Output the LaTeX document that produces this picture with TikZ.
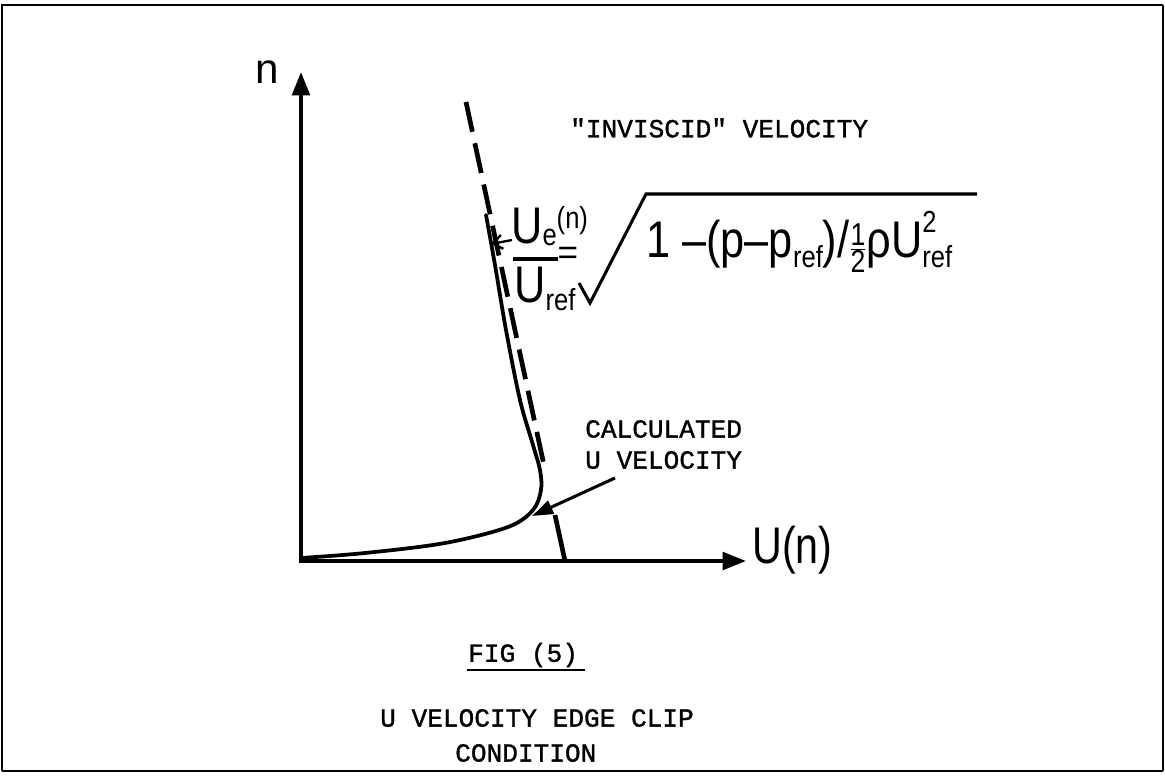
\documentclass[tikz,border=0pt]{standalone}
\usepackage{fontspec}
\usepackage{graphicx}
\usetikzlibrary{arrows.meta}
\newfontfamily\fsans{Liberation Sans}
\newfontfamily\fmono{Liberation Mono}[Ligatures=TeXOff,FakeBold=1.2]
\newcommand{\bigf}{\fsans\fontsize{44}{50}\selectfont}
\newcommand{\midf}{\fsans\fontsize{26}{28}\selectfont}
\newcommand{\halff}{\fsans\fontsize{27}{28}\selectfont}
\begin{document}
\begin{tikzpicture}[x=0.03cm,y=-0.03cm,
  axisline/.style={line width=3.4pt,-{Triangle[length=20pt,width=15pt]}},
  curveline/.style={line width=3.2pt,line cap=round,line join=round},
  dashline/.style={line width=4pt,dash pattern=on 26pt off 10pt},
  tt/.style={font=\fmono\fontsize{22.3}{26}\selectfont,inner sep=0pt},
  lbl/.style={inner sep=0pt},
  pointer/.style={line width=2.6pt,-{Triangle[length=18pt,width=12pt]}}]
\useasboundingbox (0,0) rectangle (1165,780);
% frame
\draw[line width=2.4pt] (2,771) -- (2,5) -- (1163,5);
\draw[line width=1.2pt] (1163,5) -- (1163,771);
\draw[line width=1.5pt] (2,771) -- (1163,771);
% axes
\coordinate (O) at (301,561);
\coordinate (Oh) at (299,561);
\coordinate (ytip) at (301,72);
\coordinate (xtip) at (746,561);
\draw[axisline] (O) -- (ytip);
\draw[axisline] (Oh) -- (xtip);
\node[lbl,font=\fsans\fontsize{36}{40}\selectfont] (nlab) at (267,72) {n};
\node[lbl,anchor=base west,font=\bigf] (ulab) at (752,563) {\scalebox{0.8}[1]{U(n)}};
% dashed inviscid line
\coordinate (dtop) at (466,102);
\coordinate (dmid) at (545,470);
\coordinate (dlow) at (555,515);
\coordinate (dbot) at (565,561);
\draw[dashline] (dtop) -- (dmid);
\draw[line width=4pt] (dlow) -- (dbot);
% calculated curve
\draw[curveline] plot[smooth,tension=0.55] coordinates {(486,215) (495,265) (506,330) (520,400) (533,445) (540,470) (541,490) (533,510) (508,527) (445,543) (365,553) (301,558)};
% formula
\node[lbl,anchor=base west,font=\bigf] (num) at (511,243) {\scalebox{0.84}[1]{U\raisebox{-2pt}{\midf e}\raisebox{12pt}{\midf (n)}}};
\coordinate (fb1) at (513,259);
\coordinate (fb2) at (558,259);
\draw[line width=2.6pt] (fb1) -- (fb2);
\node[lbl,anchor=base west,font=\bigf] (den) at (514,302) {\scalebox{0.84}[1]{U\raisebox{-7pt}{\midf ref}}};
\node[lbl,anchor=base,font=\fsans\fontsize{30}{32}\selectfont] (eq) at (568,264) {=};
\coordinate (r1) at (579,283);
\coordinate (r2) at (590,303);
\coordinate (r3) at (646,194);
\coordinate (r4) at (977,194);
\draw[line width=2.6pt,line join=miter] (r1) -- (r2) -- (r3) -- (r4);
\node[lbl,anchor=base west,font=\bigf] (rad) at (646,257) {\scalebox{0.84}[1]{1 –(p–p\raisebox{-9pt}{\midf ref})/$\frac{\mbox{\halff 1}}{\mbox{\halff 2}}$ρU\makebox[0pt][l]{\raisebox{21pt}{\midf 2}}\raisebox{-9pt}{\midf ref}}};
\coordinate (fa1) at (512,240);
\coordinate (fa2) at (491,244);
\draw[line width=2pt,-{Straight Barb[length=8pt,width=12pt]}] (fa1) -- (fa2);
% labels
\node[tt,anchor=west] (inv) at (570,128) {"INVISCID" VELOCITY};
\node[tt,anchor=west] (c1) at (585,429) {CALCULATED};
\node[tt,anchor=west] (c2) at (585,460) {U VELOCITY};
\coordinate (ctail) at (615,478);
\coordinate (ctip) at (532,516);
\draw[pointer] (ctail) -- (ctip);
\node[tt,anchor=west] (fig) at (468,655) {FIG (5)};
\coordinate (ul1) at (467,670);
\coordinate (ul2) at (585,670);
\draw[line width=1.6pt] (ul1) -- (ul2);
\node[tt,anchor=west] (cap1) at (380,718) {U VELOCITY EDGE CLIP};
\node[tt,anchor=west] (cap2) at (455,753) {CONDITION};
\end{tikzpicture}
\end{document}
